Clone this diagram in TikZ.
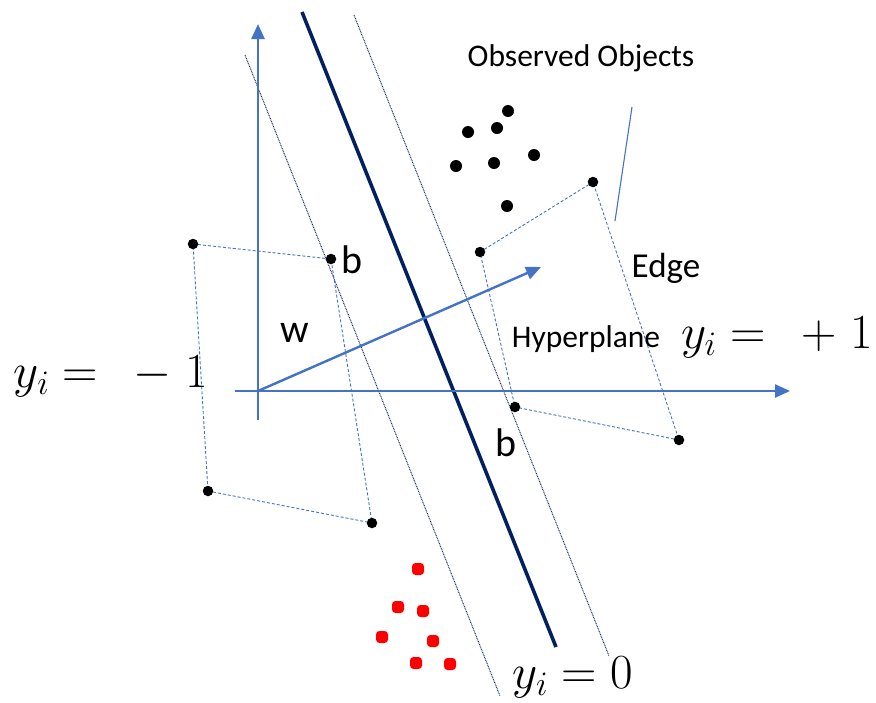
\RequirePackage{fix-cm}
\documentclass[tikz,border=0pt]{standalone}
\usepackage[no-math]{fontspec}
\setmainfont{Carlito}
\usetikzlibrary{arrows.meta}
\definecolor{axisblue}{HTML}{4472C4}
\definecolor{navy}{HTML}{002060}
\tikzset{
  axisline/.style={draw=axisblue, line width=2.4pt, -{Triangle[length=15pt,width=13pt]}},
  hyper/.style={draw=navy, line width=3.6pt},
  margin/.style={draw=navy!80!gray, line width=1pt, dash pattern=on 0.9pt off 0.8pt},
  edgeline/.style={draw=axisblue, line width=0.9pt, dash pattern=on 3pt off 2pt},
  bdot/.style={circle, fill=black, inner sep=0pt, minimum size=12pt},
  sdot/.style={circle, fill=black, inner sep=0pt, minimum size=10.5pt},
  rdot/.style={rectangle, rounded corners=3.5pt, fill=red, inner sep=0pt, minimum size=12pt},
  lbl/.style={font=\fontsize{31.5}{36}\selectfont, inner sep=0pt},
  biglbl/.style={font=\fontsize{40}{46}\selectfont, inner sep=0pt},
  mlbl/.style={font=\fontsize{49}{56}\selectfont, inner sep=0pt}
}
\begin{document}
\begin{tikzpicture}[x=1pt,y=-1pt]
\useasboundingbox (0,0) rectangle (876,702);
% coordinates
\coordinate (ybot) at (258,420);
\coordinate (ytop) at (258,24);
\coordinate (xl) at (235,391);
\coordinate (xr) at (790,391);
\coordinate (o) at (258,391);
\coordinate (wtip) at (541,267);
\coordinate (h1) at (302,12);
\coordinate (h2) at (556,647);
\coordinate (m1a) at (245,55);
\coordinate (m1b) at (500,696);
\coordinate (m2a) at (354,15);
\coordinate (m2b) at (609,656);
\coordinate (pa) at (632,107);
\coordinate (pb) at (615,221);
% margins and hyperplane
\draw[margin] (m1a) -- (m1b);
\draw[margin] (m2a) -- (m2b);
\draw[hyper] (h1) -- (h2);
% axes
\draw[axisline] (ybot) -- (ytop);
\draw[axisline] (xl) -- (xr);
\draw[axisline] (o) -- (wtip);
% pointer line
\draw[axisblue, line width=1.1pt] (pa) -- (pb);
% observed objects
\node[bdot] (o1) at (508,111) {};
\node[bdot] (o2) at (468,132) {};
\node[bdot] (o3) at (497,128) {};
\node[bdot] (o4) at (534,155) {};
\node[bdot] (o5) at (456,166) {};
\node[bdot] (o6) at (494,163) {};
\node[bdot] (o7) at (507,206) {};
% edge quads
\coordinate (l1c) at (193,244);
\coordinate (l2c) at (331,259);
\coordinate (l3c) at (372,523);
\coordinate (l4c) at (208,491);
\coordinate (r1c) at (480,252);
\coordinate (r2c) at (593,182);
\coordinate (r3c) at (679,440);
\coordinate (r4c) at (515,407);
\draw[edgeline] (l1c) -- (l2c) -- (l3c) -- (l4c) -- cycle;
\draw[edgeline] (r1c) -- (r2c) -- (r3c) -- (r4c) -- cycle;
\node[sdot] (l1) at (l1c) {};
\node[sdot] (l2) at (l2c) {};
\node[sdot] (l3) at (l3c) {};
\node[sdot] (l4) at (l4c) {};
\node[sdot] (r1) at (r1c) {};
\node[sdot] (r2) at (r2c) {};
\node[sdot] (r3) at (r3c) {};
\node[sdot] (r4) at (r4c) {};
% red objects
\node[rdot] (q1) at (418,569) {};
\node[rdot] (q2) at (398,607) {};
\node[rdot] (q3) at (423,611) {};
\node[rdot] (q4) at (382,637) {};
\node[rdot] (q5) at (433,641) {};
\node[rdot] (q6) at (416,663) {};
\node[rdot] (q7) at (450,664) {};
% labels
\node[lbl] (tobs) at (581,58) {Observed Objects};
\node[font=\fontsize{35}{40}\selectfont, inner sep=0pt] (tedge) at (666,268) {Edge};
\node[lbl] (thyp) at (586,339) {Hyperplane};
\node[biglbl] (tb1) at (352,260) {b};
\node[biglbl] (tb2) at (506,443) {b};
\node[biglbl] (tw) at (295,333) {w};
\node[mlbl] (tp) at (777,337) {$y_i=\ \ +\;1$};
\node[mlbl] (tm) at (111,376) {$y_i=\ \ -\;1$};
\node[mlbl] (tz) at (573,677) {$y_i=0$};
\end{tikzpicture}
\end{document}
